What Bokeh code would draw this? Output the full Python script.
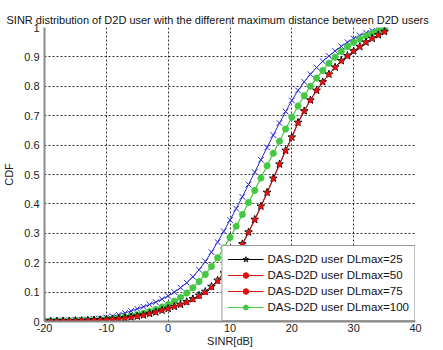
from bokeh.plotting import figure
from bokeh.models import FixedTicker, Legend, LegendItem, CustomJSTickFormatter, ColumnDataSource
from bokeh.embed import file_html
from bokeh.resources import INLINE

sinr_db = list(range(-20, 36))

cdf_dl25 = [0.001, 0.001, 0.001, 0.002, 0.002, 0.003, 0.003, 0.004, 0.005, 0.006,
            0.007, 0.008, 0.010, 0.012, 0.015, 0.018, 0.022, 0.027, 0.032, 0.038,
            0.044, 0.051, 0.058, 0.067, 0.077, 0.089, 0.102, 0.119, 0.140, 0.165,
            0.195, 0.228, 0.264, 0.304, 0.347, 0.392, 0.439, 0.487, 0.535, 0.582,
            0.627, 0.677, 0.716, 0.753, 0.786, 0.815, 0.841, 0.865, 0.887, 0.904,
            0.920, 0.935, 0.950, 0.963, 0.975, 0.986]
cdf_dl50 = [0.001, 0.001, 0.001, 0.002, 0.002, 0.002, 0.003, 0.003, 0.004, 0.005,
            0.006, 0.007, 0.009, 0.011, 0.014, 0.017, 0.021, 0.026, 0.031, 0.037,
            0.043, 0.050, 0.057, 0.065, 0.074, 0.085, 0.098, 0.115, 0.136, 0.162,
            0.192, 0.225, 0.262, 0.302, 0.345, 0.390, 0.437, 0.485, 0.533, 0.580,
            0.625, 0.675, 0.715, 0.752, 0.785, 0.814, 0.840, 0.864, 0.886, 0.903,
            0.919, 0.934, 0.949, 0.962, 0.974, 0.985]
cdf_dl75 = [0.002, 0.002, 0.003, 0.003, 0.004, 0.005, 0.006, 0.007, 0.009, 0.011,
            0.014, 0.018, 0.023, 0.029, 0.036, 0.043, 0.050, 0.058, 0.066, 0.076,
            0.087, 0.100, 0.115, 0.132, 0.152, 0.176, 0.204, 0.236, 0.270, 0.307,
            0.345, 0.384, 0.424, 0.466, 0.508, 0.550, 0.592, 0.634, 0.675, 0.714,
            0.752, 0.786, 0.815, 0.841, 0.864, 0.885, 0.903, 0.920, 0.936, 0.950,
            0.962, 0.973, 0.982, 0.989, 0.995, 1.000]
cdf_dl100 = [0.001, 0.001, 0.002, 0.002, 0.002, 0.003, 0.003, 0.004, 0.005, 0.006,
             0.007, 0.009, 0.012, 0.015, 0.019, 0.023, 0.028, 0.034, 0.041, 0.049,
             0.058, 0.069, 0.082, 0.097, 0.115, 0.136, 0.160, 0.187, 0.217, 0.250,
             0.286, 0.324, 0.364, 0.405, 0.446, 0.488, 0.530, 0.572, 0.613, 0.655,
             0.695, 0.733, 0.768, 0.800, 0.828, 0.854, 0.878, 0.899, 0.918, 0.935,
             0.949, 0.961, 0.972, 0.981, 0.989, 0.995]

labels = ["DAS-D2D user DLmax=25", "DAS-D2D user DLmax=50",
          "DAS-D2D user DLmax=75", "DAS-D2D user DLmax=100"]
x_ticks = [-20, -10, 0, 10, 20, 30, 40]
y_ticks = [0, 0.1, 0.2, 0.3, 0.4, 0.5, 0.6, 0.7, 0.8, 0.9, 1.0]

FONT = "Liberation Sans"
BLUE = "#2a2ad2"
GREEN = "#44c844"
RED = "#e01010"

p = figure(width=443, height=350, output_backend="svg", toolbar_location=None,
           x_range=(-20, 40), y_range=(0, 1),
           min_border_left=44, min_border_right=28, min_border_top=27, min_border_bottom=29,
           title="SINR distribution of D2D user with the different maximum distance between D2D users")
p.outline_line_color = None
p.background_fill_color = "white"
p.border_fill_color = "white"

p.title.text_font = FONT
p.title.text_font_size = "11px"
p.title.text_font_style = "normal"
p.title.text_color = "#111111"
p.title.align = "left"
p.title.offset = -38
p.title.standoff = 3

p.xaxis.ticker = FixedTicker(ticks=x_ticks)
p.yaxis.ticker = FixedTicker(ticks=y_ticks)
p.xaxis.formatter = CustomJSTickFormatter(code="return String(tick);")
p.yaxis.formatter = CustomJSTickFormatter(code="return String(Math.round(tick*10)/10);")
for ax in (p.xaxis[0], p.yaxis[0]):
    ax.axis_line_color = "#8a8a8a"
    ax.axis_line_width = 2
    ax.major_tick_in = 0
    ax.major_tick_out = 0
    ax.minor_tick_line_color = None
    ax.major_label_text_font = FONT
    ax.major_label_text_font_size = "11px"
    ax.major_label_text_color = "#222222"
    ax.axis_label_text_font = FONT
    ax.axis_label_text_font_size = "11px"
    ax.axis_label_text_font_style = "normal"
    ax.axis_label_text_color = "#222222"
p.xaxis.axis_label = "SINR[dB]"
p.yaxis.axis_label = "CDF"
p.xaxis.major_label_standoff = 2
p.xaxis.axis_label_standoff = 0
p.yaxis.major_label_standoff = 5
p.yaxis.axis_label_standoff = 6

for g in (p.xgrid[0], p.ygrid[0]):
    g.grid_line_color = "#000000"
    g.grid_line_dash = "2 2"
    g.grid_line_width = 1
    g.grid_line_alpha = 0.8

src = ColumnDataSource(dict(x=sinr_db, d25=cdf_dl25, d50=cdf_dl50, d75=cdf_dl75, d100=cdf_dl100))

# blue (no legend entry in original)
p.line("x", "d75", source=src, line_color=BLUE, line_width=1)
p.scatter("x", "d75", source=src, marker="x", size=8, line_color=BLUE, line_width=1)

g_line = p.line("x", "d100", source=src, line_color=GREEN, line_width=1.2)
g_mark = p.scatter("x", "d100", source=src, marker="asterisk", size=7, line_color=GREEN, line_width=2.2)

k_line = p.line("x", "d25", source=src, line_color="black", line_width=1)
k_mark = p.scatter("x", "d25", source=src, marker="star", size=8, line_color="black",
                   fill_color=None, line_width=1)

r_line = p.line("x", "d50", source=src, line_color=RED, line_width=1)
r_mark = p.scatter("x", "d50", source=src, marker="circle", size=4, line_color=RED, fill_color=RED)

legend = Legend(items=[
    LegendItem(label=labels[0], renderers=[k_line, k_mark]),
    LegendItem(label=labels[1], renderers=[r_line, r_mark]),
    LegendItem(label=labels[2], renderers=[r_line, r_mark]),
    LegendItem(label=labels[3], renderers=[g_line, g_mark]),
], location="bottom_right")
legend.margin = 0
legend.padding = 5
legend.spacing = 0
legend.label_height = 16
legend.glyph_height = 14
legend.glyph_width = 36
legend.label_standoff = 4
legend.label_text_font = FONT
legend.label_text_font_size = "11.5px"
legend.label_text_color = "#111111"
legend.border_line_color = "#333333"
legend.border_line_width = 1
legend.background_fill_color = "white"
legend.background_fill_alpha = 1
p.add_layout(legend, "center")

open("out.html", "w").write(file_html(p, INLINE))
